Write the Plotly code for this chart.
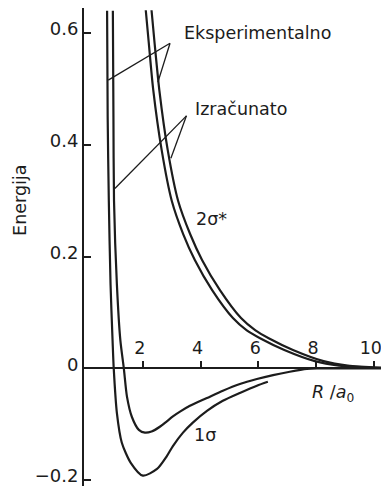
import plotly.graph_objects as go

# ---- data (R in a0, energy) ----
exp_1s_R = [0.76, 0.78, 0.82, 0.88, 0.95, 0.99, 1.10, 1.27, 1.58, 2.00, 2.49, 2.83, 3.04, 3.39, 3.73, 4.22, 4.77, 5.36, 5.95, 6.33]
exp_1s_E = [0.64, 0.45, 0.30, 0.15, 0.05, 0.0, -0.080, -0.133, -0.169, -0.192, -0.180, -0.157, -0.139, -0.115, -0.097, -0.076, -0.058, -0.044, -0.031, -0.024]

calc_1s_R = [0.96, 0.98, 1.00, 1.10, 1.22, 1.34, 1.45, 1.62, 1.86, 2.07, 2.30, 2.60, 2.80, 3.04, 3.30, 3.63, 4.22, 4.77, 5.36, 5.95, 6.51, 7.09, 7.68, 8.03, 9.0, 10.25]
calc_1s_E = [0.64, 0.45, 0.30, 0.15, 0.05, 0.0, -0.051, -0.087, -0.110, -0.115, -0.113, -0.104, -0.096, -0.086, -0.077, -0.067, -0.053, -0.040, -0.028, -0.019, -0.012, -0.006, -0.001, 0.0, 0.0, 0.0]

exp_2s_R = [2.10, 2.20, 2.36, 2.65, 3.00, 3.40, 3.80, 4.40, 5.12, 5.60, 6.06, 6.90, 7.96, 8.80, 10.0]
exp_2s_E = [0.641, 0.585, 0.498, 0.391, 0.300, 0.240, 0.194, 0.140, 0.090, 0.068, 0.054, 0.033, 0.013, 0.005, 0.001]

calc_2s_R = [2.30, 2.40, 2.57, 2.86, 3.22, 3.64, 4.05, 4.67, 5.40, 5.90, 6.36, 7.20, 8.26, 9.10, 10.25]
calc_2s_E = [0.641, 0.585, 0.498, 0.391, 0.300, 0.240, 0.194, 0.140, 0.090, 0.068, 0.054, 0.033, 0.013, 0.005, 0.0015]

x_ticks = [2, 4, 6, 8, 10]
y_ticks = [-0.2, 0, 0.2, 0.4, 0.6]
y_ticktext = ["\u22120.2", "0", "0.2", "0.4", "0.6"]

# pointer lines (tip -> curve) for the labels
exp_tip = (2.94, 0.582)
exp_targets = [(0.80, 0.516), (2.52, 0.512)]
calc_tip = (3.51, 0.452)
calc_targets = [(1.03, 0.322), (2.97, 0.376)]

x_range = [-0.04, 10.25]
y_range = [-0.2105, 0.645]

INK = "#1c1c1c"
FONT = "DejaVu Sans"

fig = go.Figure()
for R, E, name in [
    (exp_1s_R, exp_1s_E, "1σ eksperimentalno"),
    (calc_1s_R, calc_1s_E, "1σ izračunato"),
    (exp_2s_R, exp_2s_E, "2σ* eksperimentalno"),
    (calc_2s_R, calc_2s_E, "2σ* izračunato"),
]:
    fig.add_trace(go.Scatter(x=R, y=E, mode="lines", name=name,
                             line=dict(color=INK, width=2.2, shape="spline", smoothing=0.7),
                             showlegend=False))

shapes = []
for tip, targets in [(exp_tip, exp_targets), (calc_tip, calc_targets)]:
    for t in targets:
        shapes.append(dict(type="line", xref="x", yref="y", x0=tip[0], y0=tip[1], x1=t[0], y1=t[1],
                           line=dict(color=INK, width=1.3)))

zero_pos = (0 - y_range[0]) / (y_range[1] - y_range[0])

fig.update_layout(
    width=381, height=486,
    margin=dict(l=84, r=0, t=8, b=0, autoexpand=False),
    paper_bgcolor="white", plot_bgcolor="white",
    font=dict(family=FONT, color=INK, size=17),
    shapes=shapes,
    xaxis=dict(range=x_range, anchor="free", position=zero_pos, side="top",
               automargin=False, ticklabeloverflow="allow", ticklabelshift=-3,
               showline=True, linecolor=INK, linewidth=2,
               ticks="outside", ticklen=6, tickwidth=1.5, tickcolor=INK,
               tickvals=x_ticks, ticktext=[str(v) for v in x_ticks],
               tickfont=dict(family=FONT, size=17.5, color=INK),
               showgrid=False, zeroline=False),
    yaxis=dict(range=y_range, automargin=False, ticklabeloverflow="allow", ticklabelshift=-4,
               showline=True, linecolor=INK, linewidth=2,
               ticks="inside", ticklen=7, tickwidth=1.5, tickcolor=INK,
               tickvals=y_ticks, ticktext=y_ticktext,
               tickfont=dict(family=FONT, size=18, color=INK),
               showgrid=False, zeroline=False),
    annotations=[
        dict(text="Energija", textangle=-90, xref="paper", yref="y", x=-0.215, y=0.3,
             xanchor="center", yanchor="middle",
             showarrow=False, font=dict(family=FONT, size=17.5, color=INK)),
        dict(text="Eksperimentalno", xref="x", yref="y", x=3.37, y=0.600, xanchor="left",
             showarrow=False, font=dict(family=FONT, size=17.5, color=INK)),
        dict(text="Izračunato", xref="x", yref="y", x=3.72, y=0.465, xanchor="left",
             showarrow=False, font=dict(family=FONT, size=17.5, color=INK)),
        dict(text="2σ*", xref="x", yref="y", x=4.36, y=0.268,
             showarrow=False, font=dict(family=FONT, size=17.5, color=INK)),
        dict(text="1σ", xref="x", yref="y", x=4.15, y=-0.119,
             showarrow=False, font=dict(family=FONT, size=17.5, color=INK)),
        dict(text="<i>R</i> /<i>a</i><sub>0</sub>", xref="x", yref="y", x=8.58, y=-0.045,
             showarrow=False, font=dict(family=FONT, size=17.5, color=INK)),
    ],
)

fig.write_html("out.html",
               config={"displayModeBar": False},
               post_script="document.body.style.margin='0';document.body.style.overflow='hidden';")
